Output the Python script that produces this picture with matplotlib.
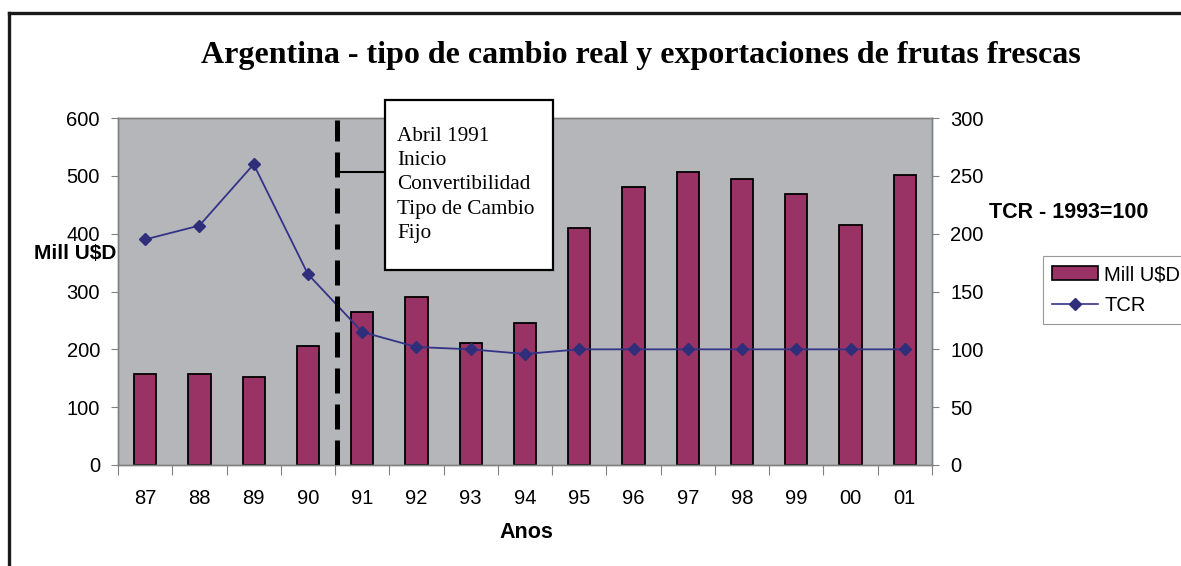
import matplotlib
matplotlib.use("Agg")
import matplotlib.pyplot as plt
from matplotlib.lines import Line2D
from matplotlib.patches import Rectangle, Patch
import numpy as np

years = ["87", "88", "89", "90", "91", "92", "93", "94", "95", "96", "97", "98", "99", "00", "01"]
exports = [157, 157, 152, 206, 265, 290, 211, 246, 410, 481, 507, 495, 469, 415, 501]
tcr = [195, 207, 260, 165, 115, 102, 100, 96, 100, 100, 100, 100, 100, 100, 100]
title = "Argentina - tipo de cambio real y exportaciones de frutas frescas"
note_lines = ["Abril 1991", "Inicio", "Convertibilidad", "Tipo de Cambio", "Fijo"]
event_pos = 3.53  # between 90 and 91

W, H = 1181, 566
fig = plt.figure(figsize=(W / 100, H / 100), dpi=100)
fig.patch.set_facecolor("white")

def fx(px):
    return px / W

def fy(py):
    return 1 - py / H

ax = fig.add_axes([fx(118), fy(465), fx(932) - fx(118), fy(118) - fy(465)])
ax.set_facecolor("#b5b6ba")
x = np.arange(len(years))
ax.bar(x, exports, width=0.41, color="#993366", edgecolor="black", linewidth=1.3, zorder=2,
       label="Mill U$D")
ax.set_xlim(-0.5, len(years) - 0.5)
ax.set_ylim(0, 600)
ax.set_yticks(range(0, 601, 100))

ax2 = ax.twinx()
ax2.plot(x, tcr, color="#333388", linewidth=1.3, marker="D", markersize=6.5,
         markerfacecolor="#2e2e7a", markeredgecolor="#2e2e7a", zorder=3, label="TCR")
ax2.set_ylim(0, 300)
ax2.set_yticks(range(0, 301, 50))
ax2.axvline(event_pos, ymin=0.0, ymax=0.995, color="black", linewidth=3.6,
            dashes=(5.0, 2.2), zorder=5)

tick_font = dict(family="Liberation Sans", size=14.5)
for a in (ax, ax2):
    for s in a.spines.values():
        s.set_color("#808080")
        s.set_linewidth(1.0)
ax.set_xticks(np.arange(-0.5, len(years)), minor=False)
ax.set_xticklabels([])
ax.set_xticks(x, minor=True)
ax.set_xticklabels(years, minor=True, **tick_font)
ax.tick_params(axis="x", which="major", length=7, color="#808080", direction="out")
ax.tick_params(axis="x", which="minor", length=0, pad=17)
ax.tick_params(axis="y", length=5, color="#808080", pad=8)
ax2.tick_params(axis="y", length=5, color="#808080", pad=8)
for lbl in ax.get_yticklabels():
    lbl.set_fontfamily("Liberation Sans"); lbl.set_fontsize(14.5)
for lbl in ax2.get_yticklabels():
    lbl.set_fontfamily("Liberation Sans"); lbl.set_fontsize(14.5)

# titles and axis labels
fig.text(fx(641), fy(55), title, ha="center", va="center", family="Liberation Serif",
         fontweight="bold", fontsize=23)
fig.text(fx(75), fy(253), "Mill U$D", ha="center", va="center", family="Liberation Sans",
         fontweight="bold", fontsize=15)
fig.text(fx(1069), fy(212), "TCR - 1993=100", ha="center", va="center",
         family="Liberation Sans", fontweight="bold", fontsize=15.5)
fig.text(fx(526), fy(533), "Anos", ha="center", va="center", family="Liberation Sans",
         fontweight="bold", fontsize=15.5)

# annotation box
fig.add_artist(Line2D([fx(337), fx(386)], [fy(172), fy(172)], color="black", linewidth=1.5))
fig.add_artist(Rectangle((fx(385), fy(270)), fx(553) - fx(385), fy(100) - fy(270),
                         facecolor="white", edgecolor="black", linewidth=1.6,
                         transform=fig.transFigure, zorder=10))
fig.text(fx(397), fy(127), "\n".join(note_lines), ha="left", va="top",
         family="Liberation Serif", fontsize=15.3, linespacing=1.37, zorder=11)

# legend
handles = [Patch(facecolor="#993366", edgecolor="black", linewidth=1.2, label="Mill U$D"),
           Line2D([], [], color="#333388", linewidth=1.2, marker="D", markersize=6.5,
                  markerfacecolor="#2e2e7a", markeredgecolor="#2e2e7a", label="TCR")]
leg = fig.legend(handles=handles, loc="upper left", bbox_to_anchor=(fx(1043), fy(256)),
                 bbox_transform=fig.transFigure, frameon=True, fancybox=False,
                 edgecolor="#999999", framealpha=1, prop=dict(family="Liberation Sans", size=14.5),
                 handlelength=2.3, handletextpad=0.3, borderpad=0.45, labelspacing=0.6,
                 borderaxespad=0)
leg.get_frame().set_linewidth(0.8)

# outer border (cropped at right and bottom)
fig.add_artist(Line2D([fx(9), 1.0], [fy(13), fy(13)], color="#1a1a1a", linewidth=2.4))
fig.add_artist(Line2D([fx(9), fx(9)], [fy(13), 0.0], color="#1a1a1a", linewidth=2.4))

fig.savefig("out.png", dpi=100, facecolor="white")
